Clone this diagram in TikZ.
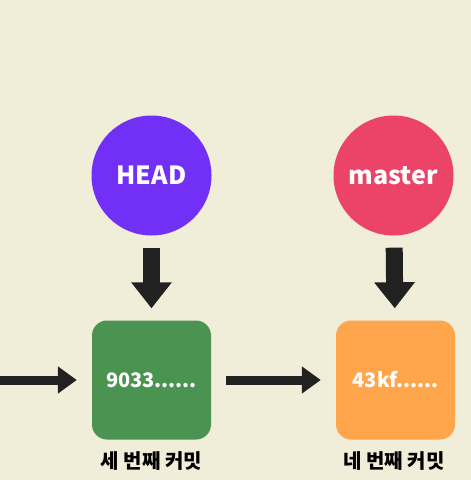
\documentclass[tikz,border=0pt]{standalone}
\usepackage{fontspec}
\newfontfamily\kfont{Noto Sans CJK KR}
\usepackage{tikz}
\usetikzlibrary{arrows.meta}

\definecolor{bgcol}{RGB}{240,237,217}
\definecolor{headcol}{RGB}{114,48,246}
\definecolor{mastercol}{RGB}{236,68,105}
\definecolor{greencol}{RGB}{74,147,80}
\definecolor{orangecol}{RGB}{255,166,77}
\definecolor{arrowcol}{RGB}{33,33,33}

\begin{document}
\begin{tikzpicture}[x=1pt,y=-1pt,
    refnode/.style={circle,minimum size=120pt,inner sep=0pt,text=white,
        font=\kfont\bfseries\fontsize{25}{25}\selectfont},
    commit/.style={rectangle,rounded corners=15pt,minimum size=119pt,inner sep=0pt,text=white,
        font=\kfont\bfseries\fontsize{20}{20}\selectfont},
    downarrow/.style={draw=arrowcol,line width=17pt,-{Triangle[width=39pt,length=26pt]},
        shorten <=12pt,shorten >=12pt},
    sidearrow/.style={draw=arrowcol,line width=9pt,-{Triangle[width=26pt,length=19pt]},
        shorten >=15pt}]
                \fill [bgcol] (0,0) rectangle (471,480);
                \useasboundingbox (0,0) rectangle (471,480);

                \node [refnode, fill=headcol] (head) at (151.5,175.5) {HEAD};
                \node [refnode, fill=mastercol] (master) at (393.5,175.5) {master};

                \node [commit, fill=greencol] (third) at (151.5,380) {9033......};
                \node [commit, fill=orangecol] (fourth) at (395.5,380) {43kf......};

                \node [font=\kfont\bfseries\fontsize{20}{20}\selectfont] (thirdlabel) at (151.5,461) {세 번째 커밋};
                \node [font=\kfont\bfseries\fontsize{20}{20}\selectfont] (fourthlabel) at (394,461) {네 번째 커밋};

                \coordinate (prev) at (0,380);
                \draw [downarrow] (head) -- (third);
                \draw [downarrow] (master) -- (fourth);
                \draw [sidearrow] (prev) -- (third);
                \draw [sidearrow, shorten <=15pt] (third) -- (fourth);
            \end{tikzpicture}
\end{document}
